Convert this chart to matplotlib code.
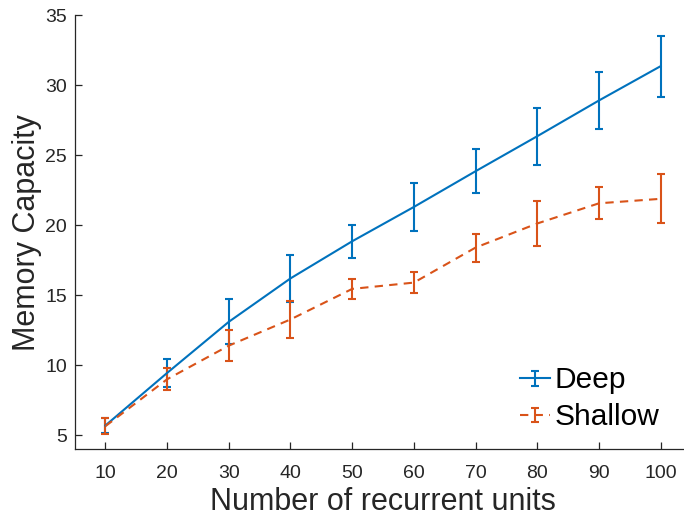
import numpy as np
import matplotlib.pyplot as plt
from matplotlib.legend_handler import HandlerErrorbar

# Memory capacity vs. number of recurrent units
units = [10, 20, 30, 40, 50, 60, 70, 80, 90, 100]
deep_mean = [5.7, 9.45, 13.1, 16.2, 18.85, 21.3, 23.85, 26.35, 28.9, 31.35]
deep_err = [0.55, 1.0, 1.6, 1.65, 1.17, 1.7, 1.57, 2.03, 2.03, 2.17]
shallow_mean = [5.65, 9.0, 11.4, 13.27, 15.45, 15.9, 18.4, 20.12, 21.56, 21.88]
shallow_err = [0.55, 0.8, 1.13, 1.29, 0.7, 0.74, 1.0, 1.6, 1.14, 1.75]

blue = '#0072BD'
orange = '#D95319'
axcol = '#262626'

plt.rcParams['font.family'] = ['Liberation Sans', 'DejaVu Sans']

fig = plt.figure(figsize=(6.84, 5.21), dpi=100)
ax = fig.add_axes([0.109, 0.1376, 0.902, 0.8336])

eb1 = ax.errorbar(units, deep_mean, yerr=deep_err, color=blue, lw=1.5,
                  elinewidth=1.5, capsize=3, capthick=1.5, label='Deep')
eb2 = ax.errorbar(units, shallow_mean, yerr=shallow_err, color=orange, lw=1.5,
                  ls='--', dashes=(4, 3), elinewidth=1.5, capsize=3, capthick=1.5,
                  label='Shallow')

ax.set_xlim(5, 105)
ax.set_ylim(4, 35)
ax.set_xticks(units)
ax.set_yticks(np.arange(5, 36, 5))

for side in ['top', 'right']:
    ax.spines[side].set_visible(False)
for side in ['left', 'bottom']:
    ax.spines[side].set_color(axcol)
    ax.spines[side].set_linewidth(0.9)
ax.tick_params(direction='in', length=5, width=0.9, color=axcol,
               labelcolor=axcol, labelsize=14)
ax.tick_params(axis='x', pad=11)
ax.tick_params(axis='y', pad=5.5)

ax.set_xlabel('Number of recurrent units', fontsize=22, color=axcol, labelpad=4)
ax.set_ylabel('Memory Capacity', fontsize=22, color=axcol, labelpad=2)

hm = {eb1: HandlerErrorbar(yerr_size=0.25), eb2: HandlerErrorbar(yerr_size=0.25)}
leg = ax.legend(loc='lower right', bbox_to_anchor=(0.982, -0.007), frameon=False,
                fontsize=21.5, handlelength=1.0, handletextpad=0.15,
                labelspacing=0.3, borderaxespad=0.3, handler_map=hm)
for t in leg.get_texts():
    t.set_color('black')

fig.savefig('out.png', dpi=100)
